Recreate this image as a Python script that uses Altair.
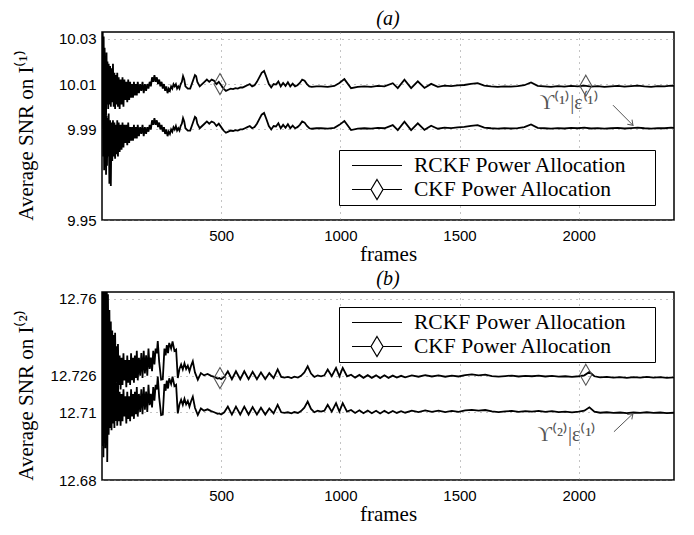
import altair as alt
import pandas as pd

# ---------------- data ----------------
frames_a = [0, 3, 5, 7, 9, 11, 13, 15, 17, 19, 21, 23, 26, 28, 31, 34, 37, 40, 43, 46, 49, 52, 55, 58, 61, 64, 67, 70,
            74, 78, 82, 86, 90, 94, 98, 102, 106, 110, 114, 118, 122, 126, 130, 134, 138, 142, 146, 150, 155, 160, 165,
            170, 175, 180, 185, 190, 195, 200, 205, 210, 215, 220, 225, 230, 235, 240, 245, 250, 255, 260, 265, 270,
            275, 280, 285, 290, 295, 300, 305, 310, 315, 320, 325, 330, 335, 340, 345, 350, 360, 370, 380, 390, 395,
            400, 410, 420, 430, 440, 450, 460, 470, 480, 490, 500, 510, 520, 530, 540, 550, 560, 570, 580, 590, 600,
            610, 620, 630, 640, 650, 660, 670, 680, 690, 700, 710, 720, 730, 740, 750, 760, 770, 780, 790, 800, 810,
            820, 830, 840, 850, 860, 870, 880, 900, 919, 947, 975, 996, 1017, 1045, 1073, 1101, 1129, 1157, 1185,
            1220, 1241, 1269, 1297, 1325, 1353, 1381, 1409, 1437, 1465, 1492, 1520, 1548, 1576, 1604, 1632, 1660,
            1688, 1716, 1744, 1772, 1800, 1828, 1856, 1884, 1912, 1940, 1968, 1996, 2024, 2052, 2080, 2108, 2136,
            2164, 2192, 2220, 2248, 2276, 2304, 2332, 2360, 2388, 2400]
upper_a = [10.040, 10.034, 10.002, 10.031, 9.998, 10.026, 10.000, 10.022, 9.996, 10.024, 10.001, 10.020, 9.999,
           10.019, 10.001, 10.018, 10.000, 10.017, 10.002, 10.019, 10.000, 10.015, 9.999, 10.014, 10.001, 10.015,
           10.000, 10.013, 9.999, 10.012, 10.001, 10.013, 10.000, 10.012, 10.003, 10.011, 10.002, 10.012, 10.003,
           10.011, 10.004, 10.010, 10.004, 10.011, 10.005, 10.010, 10.005, 10.011, 10.006, 10.010, 10.007, 10.011,
           10.006, 10.010, 10.007, 10.010, 10.008, 10.011, 10.009, 10.013, 10.011, 10.014, 10.011, 10.013, 10.010,
           10.012, 10.009, 10.011, 10.008, 10.010, 10.007, 10.009, 10.006, 10.008, 10.007, 10.009, 10.008, 10.010,
           10.009, 10.010, 10.008, 10.009, 10.008, 10.010, 10.011, 10.0135, 10.012, 10.009, 10.008, 10.008, 10.011,
           10.014, 10.0135, 10.011, 10.009, 10.010, 10.011, 10.012, 10.011, 10.012, 10.0115, 10.010, 10.011, 10.0095,
           10.008, 10.007, 10.0075, 10.008, 10.0078, 10.0082, 10.008, 10.0085, 10.0085, 10.009, 10.0095, 10.010,
           10.009, 10.0095, 10.011, 10.013, 10.015, 10.0158, 10.013, 10.010, 10.0085, 10.010, 10.0098, 10.0112,
           10.009, 10.0105, 10.0092, 10.0108, 10.009, 10.0102, 10.009, 10.0095, 10.0105, 10.012, 10.0115, 10.010,
           10.009, 10.0088, 10.0090, 10.0090, 10.0088, 10.0092, 10.0105, 10.0122, 10.0082, 10.0088, 10.0090,
           10.0088, 10.0092, 10.0090, 10.0104, 10.0082, 10.0119, 10.0082, 10.0112, 10.0083, 10.0101, 10.0088,
           10.0093, 10.0091, 10.0094, 10.0096, 10.0101, 10.0104, 10.0093, 10.0090, 10.0088, 10.0090, 10.0089,
           10.0091, 10.0095, 10.0107, 10.0092, 10.0090, 10.0088, 10.0091, 10.0089, 10.0092, 10.0090, 10.0093,
           10.0089, 10.0091, 10.0088, 10.0090, 10.0092, 10.0089, 10.0091, 10.0093, 10.0090, 10.0088, 10.0091,
           10.0090, 10.0093, 10.0092]
lower_a = [10.034, 10.012, 9.978, 10.005, 9.972, 9.998, 9.975, 10.000, 9.970, 9.996, 9.974, 9.995, 9.978, 9.997,
           9.966, 9.994, 9.965, 9.993, 9.976, 9.994, 9.978, 9.993, 9.977, 9.992, 9.979, 9.994, 9.978, 9.993, 9.980,
           9.992, 9.981, 9.993, 9.982, 9.992, 9.984, 9.992, 9.983, 9.993, 9.984, 9.991, 9.985, 9.991, 9.985, 9.992,
           9.986, 9.991, 9.986, 9.992, 9.987, 9.991, 9.988, 9.992, 9.987, 9.991, 9.988, 9.991, 9.989, 9.992, 9.990,
           9.994, 9.992, 9.995, 9.992, 9.994, 9.991, 9.993, 9.990, 9.992, 9.989, 9.991, 9.988, 9.990, 9.987, 9.989,
           9.988, 9.990, 9.989, 9.991, 9.990, 9.9915, 9.9895, 9.9905, 9.9895, 9.9915, 9.9925, 9.995, 9.9935, 9.9905,
           9.9895, 9.9895, 9.9925, 9.9955, 9.995, 9.9925, 9.9905, 9.9915, 9.9925, 9.9935, 9.9925, 9.9935, 9.993,
           9.9915, 9.9925, 9.991, 9.9895, 9.9885, 9.989, 9.9895, 9.9893, 9.9897, 9.9895, 9.990, 9.990, 9.9905, 9.991,
           9.9915, 9.9905, 9.991, 9.9925, 9.9945, 9.9965, 9.9973, 9.9945, 9.9915, 9.990, 9.9915, 9.9913, 9.9927,
           9.9905, 9.992, 9.9907, 9.9923, 9.9905, 9.9917, 9.9905, 9.991, 9.992, 9.9935, 9.993, 9.9915, 9.9905,
           9.9903, 9.9905, 9.9905, 9.9903, 9.9907, 9.992, 9.9937, 9.9897, 9.9903, 9.9905, 9.9903, 9.9907, 9.9905,
           9.9919, 9.9897, 9.9934, 9.9897, 9.9927, 9.9898, 9.9916, 9.9903, 9.9908, 9.9906, 9.9909, 9.9911, 9.9916,
           9.9919, 9.9908, 9.9905, 9.9903, 9.9905, 9.9904, 9.9906, 9.991, 9.9922, 9.9907, 9.9905, 9.9903, 9.9906,
           9.9904, 9.9907, 9.9905, 9.9908, 9.9904, 9.9906, 9.9903, 9.9905, 9.9907, 9.9904, 9.9906, 9.9908, 9.9905,
           9.9903, 9.9906, 9.9905, 9.9908, 9.9907]

frames_b = [0, 2, 4, 6, 8, 10, 12, 14, 16, 18, 20, 22, 25, 28, 31, 34, 37, 40, 43, 46, 49, 52, 55, 58, 61, 64, 67, 70,
            74, 78, 82, 86, 90, 94, 98, 102, 106, 110, 114, 118, 122, 126, 130, 134, 138, 142, 146, 150, 155, 160, 165,
            170, 175, 180, 185, 190, 195, 200, 205, 210, 215, 220, 225, 230, 234, 240, 248, 255, 262, 267, 272, 277,
            282, 290, 296, 304, 311, 318, 325, 332, 339, 346, 353, 360, 367, 374, 381, 390, 402, 415, 428, 443, 458,
            471, 485, 492, 500, 513, 528, 545, 562, 580, 597, 615, 632, 650, 667, 685, 702, 720, 737, 752, 765, 780,
            795, 807, 822, 835, 849, 863, 877, 891, 905, 919, 933, 947, 964, 982, 996, 1010, 1028, 1045, 1062, 1080,
            1097, 1115, 1132, 1150, 1167, 1185, 1202, 1220, 1237, 1255, 1272, 1300, 1328, 1356, 1384, 1412, 1440,
            1468, 1496, 1524, 1552, 1580, 1608, 1636, 1664, 1692, 1720, 1748, 1776, 1804, 1832, 1860, 1888, 1916,
            1944, 1972, 2000, 2024, 2045, 2066, 2090, 2118, 2146, 2174, 2202, 2230, 2258, 2286, 2314, 2342, 2370,
            2400]
upper_b = [12.775, 12.720, 12.770, 12.712, 12.768, 12.718, 12.770, 12.715, 12.766, 12.720, 12.770, 12.714, 12.762,
           12.716, 12.755, 12.720, 12.750, 12.716, 12.746, 12.721, 12.744, 12.719, 12.745, 12.723, 12.739, 12.721,
           12.740, 12.722, 12.735, 12.720, 12.734, 12.722, 12.736, 12.724, 12.733, 12.721, 12.735, 12.723, 12.733,
           12.722, 12.736, 12.724, 12.734, 12.723, 12.735, 12.725, 12.737, 12.724, 12.734, 12.726, 12.736, 12.725,
           12.737, 12.727, 12.735, 12.726, 12.738, 12.729, 12.734, 12.728, 12.737, 12.731, 12.738, 12.736, 12.7413,
           12.732, 12.7243, 12.7245, 12.738, 12.735, 12.7395, 12.736, 12.7405, 12.738, 12.7412, 12.737, 12.7376,
           12.725, 12.729, 12.731, 12.7288, 12.7315, 12.729, 12.7305, 12.728, 12.7305, 12.7324, 12.7275, 12.7243,
           12.7272, 12.7262, 12.7268, 12.726, 12.7255, 12.7248, 12.725, 12.7245, 12.7255, 12.728, 12.7245, 12.728,
           12.7245, 12.728, 12.7245, 12.7278, 12.7245, 12.7275, 12.7245, 12.7272, 12.725, 12.7288, 12.7255, 12.7252,
           12.7255, 12.725, 12.7256, 12.7252, 12.726, 12.7275, 12.7302, 12.727, 12.7255, 12.7262, 12.7258, 12.7262,
           12.7288, 12.7258, 12.7295, 12.7258, 12.7295, 12.7258, 12.7265, 12.7252, 12.7264, 12.7251, 12.7263,
           12.7251, 12.7262, 12.725, 12.7262, 12.7251, 12.7261, 12.7252, 12.726, 12.7253, 12.7262, 12.7256, 12.7263,
           12.7257, 12.7262, 12.7256, 12.7261, 12.7257, 12.7263, 12.7266, 12.7262, 12.7265, 12.7259, 12.7256,
           12.7259, 12.7261, 12.7257, 12.726, 12.7258, 12.7261, 12.7257, 12.726, 12.7256, 12.7258, 12.7255, 12.7258,
           12.7262, 12.7277, 12.7258, 12.7253, 12.7255, 12.7252, 12.7254, 12.7251, 12.7254, 12.7252, 12.7255,
           12.7252, 12.7254, 12.7251, 12.7253]
lower_b = [12.770, 12.695, 12.742, 12.690, 12.745, 12.700, 12.738, 12.694, 12.735, 12.698, 12.742, 12.688, 12.732,
           12.700, 12.730, 12.703, 12.728, 12.702, 12.727, 12.705, 12.726, 12.703, 12.727, 12.706, 12.723, 12.704,
           12.724, 12.706, 12.719, 12.704, 12.718, 12.706, 12.720, 12.708, 12.717, 12.705, 12.719, 12.707, 12.717,
           12.706, 12.720, 12.708, 12.718, 12.707, 12.719, 12.709, 12.721, 12.708, 12.718, 12.710, 12.720, 12.709,
           12.721, 12.711, 12.719, 12.710, 12.722, 12.713, 12.718, 12.712, 12.721, 12.715, 12.722, 12.720, 12.7257,
           12.7164, 12.7087, 12.7089, 12.7224, 12.7194, 12.7239, 12.7204, 12.7249, 12.7224, 12.7256, 12.7214,
           12.722, 12.7094, 12.7134, 12.7154, 12.7132, 12.7159, 12.7134, 12.7149, 12.7124, 12.7149, 12.7168,
           12.7119, 12.7087, 12.7116, 12.7106, 12.7112, 12.7104, 12.7099, 12.7092, 12.7094, 12.7089, 12.7099,
           12.7124, 12.7089, 12.7124, 12.7089, 12.7124, 12.7089, 12.7122, 12.7089, 12.7119, 12.7089, 12.7116,
           12.7094, 12.7132, 12.7099, 12.7096, 12.7099, 12.7094, 12.710, 12.7096, 12.7104, 12.7119, 12.7146,
           12.7114, 12.7099, 12.7106, 12.7102, 12.7106, 12.7132, 12.7102, 12.7139, 12.7102, 12.7139, 12.7102,
           12.7109, 12.7096, 12.7108, 12.7095, 12.7107, 12.7095, 12.7106, 12.7094, 12.7106, 12.7095, 12.7105,
           12.7096, 12.7104, 12.7097, 12.7106, 12.710, 12.7107, 12.7101, 12.7106, 12.710, 12.7105, 12.7101, 12.7107,
           12.711, 12.7106, 12.7109, 12.7103, 12.710, 12.7103, 12.7105, 12.7101, 12.7104, 12.7102, 12.7105, 12.7101,
           12.7104, 12.710, 12.7102, 12.7099, 12.7102, 12.7106, 12.7121, 12.7102, 12.7097, 12.7099, 12.7096,
           12.7098, 12.7095, 12.7098, 12.7096, 12.7099, 12.7096, 12.7098, 12.7095, 12.7097]

marker_frames = [495, 2030]
marker_a = [10.0100, 10.0093]
marker_b = [12.7250, 12.7265]

legend_labels = ["RCKF Power Allocation", "CKF Power Allocation"]
x_ticks = [500, 1000, 1500, 2000]
x_domain = [0, 2400]
y_ticks_a = [9.95, 9.99, 10.01, 10.03]
y_ticks_b = [12.68, 12.71, 12.726, 12.76]
y_domain_a = [9.95, 10.033]
y_domain_b = [12.68, 12.763]

ann_a = {"text": "ϒ⁽¹⁾|ε⁽¹⁾", "tx": 1960, "ty": 10.0016,
         "x1": 2144, "y1": 10.0007, "x2": 2228, "y2": 9.9918, "ang": 45}
ann_b = {"text": "ϒ⁽²⁾|ε⁽¹⁾", "tx": 1951, "ty": 12.7000,
         "x1": 2148, "y1": 12.7013, "x2": 2228, "y2": 12.7093, "ang": 317}

# ---------------- styling ----------------
W, H = 572, 188
SERIF = "Liberation Serif"
SANS = "Liberation Sans"
GRAY = "#555555"
LINE_PATH = "M-1,0L1,0"
LINE_DIAMOND_PATH = "M-1,0L-0.24,0M0.24,0L1,0M0,-0.4L0.24,0L0,0.4L-0.24,0Z"
DIAMOND_PATH = "M0,-1L0.57,0L0,1L-0.57,0Z"
CHEVRON_PATH = "M-1,-0.7L0,0L-1,0.7"


def panel(frames, upper, lower, mk_y, yticks, ydom, ytitle, title, ann, legend_y):
    n = len(frames)
    df = pd.DataFrame({"frame": frames + frames, "value": upper + lower,
                       "curve": ["upper"] * n + ["lower"] * n})
    xs = alt.X("frame:Q", scale=alt.Scale(domain=x_domain, nice=False, zero=False),
               axis=alt.Axis(values=x_ticks, format="d", title="frames", titleFont=SERIF,
                             titleFontSize=21, titleFontWeight="normal"))
    ys = alt.Y("value:Q", scale=alt.Scale(domain=ydom, nice=False, zero=False),
               axis=alt.Axis(values=yticks, format=".5~r", title=ytitle, titleX=-70, titleY=103,
                             titleAngle=270, titleAlign="center", titleBaseline="alphabetic",
                             titleFont=SERIF, titleFontSize=21, titleFontWeight="normal"))

    lines = alt.Chart(df).mark_line(color="black", strokeWidth=1.8, clip=True).encode(
        x=xs, y=ys, detail="curve:N")

    mk = alt.Chart(pd.DataFrame({"frame": marker_frames, "value": mk_y})).mark_point(
        shape=DIAMOND_PATH, filled=False, color=GRAY, size=441, strokeWidth=1.1, opacity=1
    ).encode(x=xs, y=ys)

    leg = alt.Chart(pd.DataFrame({"series": legend_labels})).mark_point(
        filled=False, color="black", opacity=0
    ).encode(
        shape=alt.Shape("series:N",
                        scale=alt.Scale(domain=legend_labels, range=[LINE_PATH, LINE_DIAMOND_PATH]),
                        legend=alt.Legend(title=" ", titleOrient="right", titlePadding=24,
                                          titleFontSize=21, titleFont=SERIF,
                                          orient="none", legendX=237, legendY=legend_y,
                                          direction="vertical", strokeColor="black",
                                          fillColor="white", padding=4, symbolSize=2500,
                                          symbolStrokeWidth=1.2, symbolStrokeColor="black",
                                          symbolFillColor="white", symbolOpacity=1, symbolOffset=8,
                                          labelOffset=11, labelFont=SERIF, labelFontSize=21.5,
                                          labelColor="black", clipHeight=23, rowPadding=1,
                                          labelLimit=400))
    )

    ann_df = pd.DataFrame([ann])
    txt = alt.Chart(ann_df).mark_text(font=SERIF, fontSize=20, color=GRAY, align="center",
                                      baseline="middle").encode(
        x=alt.X("tx:Q"), y=alt.Y("ty:Q"), text="text:N")
    arrow = alt.Chart(ann_df).mark_rule(color=GRAY, strokeWidth=1).encode(
        x=alt.X("x1:Q"), y=alt.Y("y1:Q"), x2="x2:Q", y2="y2:Q")
    head = alt.Chart(ann_df).mark_point(shape=CHEVRON_PATH, filled=False, color=GRAY, size=90,
                                        strokeWidth=1, opacity=1).encode(
        x=alt.X("x2:Q"), y=alt.Y("y2:Q"), angle=alt.Angle("ang:Q", scale=None))

    return alt.layer(lines, mk, txt, arrow, head, leg).properties(
        width=W, height=H,
        title=alt.TitleParams(title, font=SERIF, fontSize=20, fontStyle="italic",
                              fontWeight="normal", offset=3, color="black"))


pa = panel(frames_a, upper_a, lower_a, marker_a, y_ticks_a, y_domain_a,
           "Average SNR on I⁽¹⁾", "(a)", ann_a, 118)
pb = panel(frames_b, upper_b, lower_b, marker_b, y_ticks_b, y_domain_b,
           "Average SNR on I⁽²⁾", "(b)", ann_b, 15)

chart = alt.vconcat(pa, pb, spacing=3).resolve_scale(
    y="independent", shape="independent"
).resolve_legend(shape="independent").properties(
    padding={"left": 6, "top": 0, "right": 5, "bottom": 0}
).configure_view(
    stroke="black", strokeWidth=1.5
).configure_axis(
    grid=True, gridColor="#888888", gridDash=[1, 5], gridWidth=1, gridOpacity=1,
    domain=False, ticks=False,
    labelFont=SANS, labelFontSize=15, labelColor="black",
    titleFont=SERIF, titleFontSize=21, titleFontWeight="normal", titleColor="black"
).configure_axisX(
    labelPadding=8, titlePadding=0
).configure_axisY(
    labelPadding=6
).configure_title(
    font=SERIF
).configure_legend(
    strokeWidth=1
)

chart.save("out.html", embed_options={"renderer": "svg", "actions": False})
